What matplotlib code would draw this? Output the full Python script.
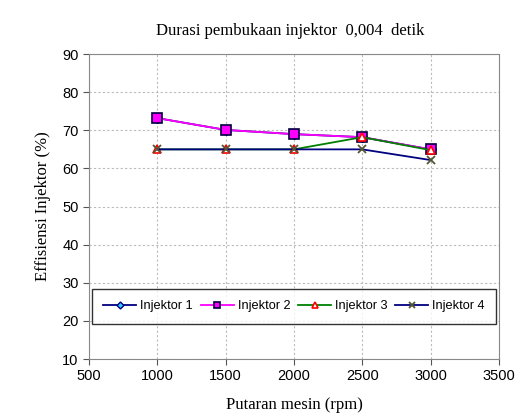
import matplotlib
matplotlib.use("Agg")
import matplotlib.pyplot as plt

rpm = [1000, 1500, 2000, 2500, 3000]
inj1 = [73.2, 70.1, 69.0, 68.2, 65.0]
inj2 = [73.2, 70.1, 69.0, 68.2, 65.0]
inj3 = [65.0, 65.0, 65.0, 68.2, 64.8]
inj4 = [65.0, 65.0, 65.0, 65.0, 62.2]
labels = ["Injektor 1", "Injektor 2", "Injektor 3", "Injektor 4"]

fig = plt.figure(figsize=(5.18, 4.16), dpi=100)
ax = fig.add_axes([0.172, 0.137, 0.791, 0.733])

ax.plot(rpm, inj1, color="#000080", lw=1.3, marker="D", ms=5, mfc="#33CCFF", mec="#000080", label=labels[0], zorder=3)
ax.plot(rpm, inj2, color="#FF00FF", lw=1.3, marker="s", ms=7, mfc="#FF00FF", mec="#000040", mew=1.2, label=labels[1], zorder=4)
ax.plot(rpm, inj3, color="#008000", lw=1.3, marker="^", ms=6, mfc="white", mec="#FF0000", mew=1.2, label=labels[2], zorder=5)
ax.plot(rpm, inj4, color="#000080", lw=1.3, marker="x", ms=6, mec="#555533", mew=1.3, label=labels[3], zorder=6)

ax.set_xlim(500, 3500)
ax.set_ylim(10, 90)
ax.set_xticks(range(500, 3501, 500))
ax.set_yticks(range(10, 91, 10))
ax.grid(True, color="#BBBBBB", linestyle=(0, (2, 2)), lw=0.8)
for s in ax.spines.values():
    s.set_color("#888888")
for lab in ax.get_xticklabels() + ax.get_yticklabels():
    lab.set_fontfamily("Liberation Sans")
    lab.set_fontsize(10.5)
ax.tick_params(length=4, color="#555555")

fig.text(0.56, 0.925, "Durasi pembukaan injektor  0,004  detik", ha="center", va="center",
         family="Liberation Serif", fontsize=12)
ax.set_xlabel("Putaran mesin (rpm)", family="Liberation Serif", fontsize=12, labelpad=10)
ax.set_ylabel("Effisiensi Injektor (%)", family="Liberation Serif", fontsize=12, labelpad=8)

leg = ax.legend(loc="lower center", bbox_to_anchor=(0.5, 0.095), ncol=4, frameon=True, fancybox=False,
                edgecolor="black", prop={"family": "Liberation Sans", "size": 9.2},
                handlelength=2.6, columnspacing=0.6, handletextpad=0.3, borderpad=0.9,
                markerscale=0.7)
leg.get_frame().set_linewidth(1.0)

fig.savefig("out.png", dpi=100)
